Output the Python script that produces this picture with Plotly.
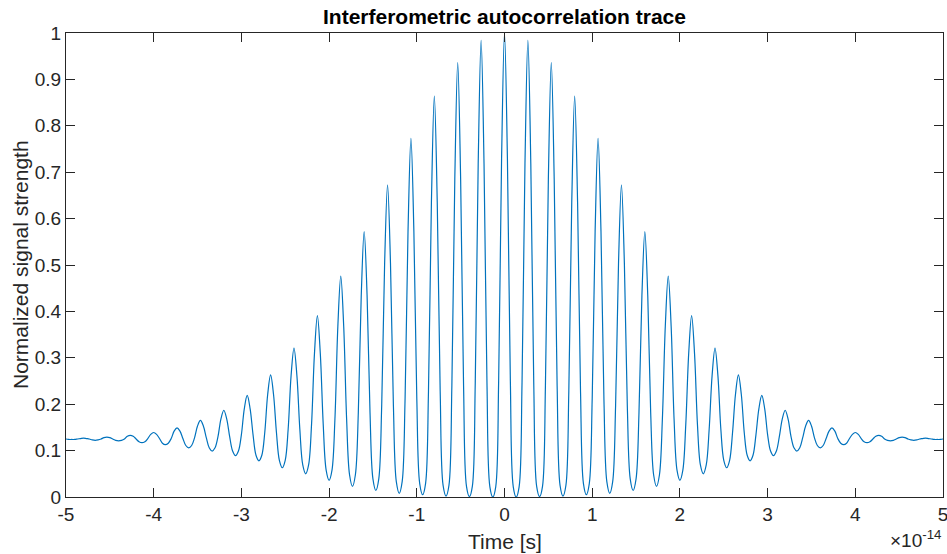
import plotly.graph_objects as go

# Time axis is in units of 1e-14 s (MATLAB shows the x10^-14 multiplier)
FRINGE_PERIOD = 0.2667

# Values, one entry per optical fringe n (tau >= 0)
# peak at n*P, upper shoulder at n*P +/- P/8, mid level at n*P +/- P/4
peak_vals = [1.000, 0.984, 0.936, 0.864, 0.773, 0.673, 0.572, 0.476, 0.391, 0.321,
             0.263, 0.219, 0.187, 0.165, 0.149, 0.139, 0.133, 0.129, 0.127, 0.125]
upper_shoulder = [0.729, 0.718, 0.685, 0.635, 0.573, 0.504, 0.434, 0.368, 0.309, 0.261,
                  0.221, 0.190, 0.168, 0.153, 0.142, 0.135, 0.131, 0.128, 0.126, 0.125]
mid_vals = [0.250, 0.247, 0.240, 0.228, 0.213, 0.197, 0.182, 0.168, 0.156, 0.146,
            0.139, 0.134, 0.130, 0.128, 0.126, 0.126, 0.125, 0.125, 0.125, 0.125]
# trough at (n+1/2)*P, lower shoulder at (n+1/2)*P +/- P/8
lower_shoulder = [0.022, 0.023, 0.025, 0.029, 0.033, 0.039, 0.048, 0.058, 0.069, 0.079,
                  0.090, 0.099, 0.106, 0.111, 0.116, 0.119, 0.122, 0.123, 0.124]
trough_vals = [0.000, 0.001, 0.002, 0.005, 0.008, 0.014, 0.023, 0.036, 0.050, 0.063,
               0.078, 0.089, 0.099, 0.106, 0.113, 0.117, 0.121, 0.122, 0.124]

x_tick_vals = [-5, -4, -3, -2, -1, 0, 1, 2, 3, 4, 5]
x_tick_text = ["-5", "-4", "-3", "-2", "-1", "0", "1", "2", "3", "4", "5"]
y_tick_vals = [0, 0.1, 0.2, 0.3, 0.4, 0.5, 0.6, 0.7, 0.8, 0.9, 1]
y_tick_text = ["0", "0.1", "0.2", "0.3", "0.4", "0.5", "0.6", "0.7", "0.8", "0.9", "1"]

TEXT_COLOR = "#262626"
FONT = "Liberation Sans, Arial, Helvetica, sans-serif"

# ------------------------------------------------------------------
# Assemble the positive-delay half, then mirror it (trace is symmetric)
half_t, half_s = [], []
P = FRINGE_PERIOD
for n in range(len(trough_vals)):
    t0 = n * P
    samples = [
        (0.0, peak_vals[n]),
        (P / 8, upper_shoulder[n]),
        (P / 4, mid_vals[n]),
        (3 * P / 8, lower_shoulder[n]),
        (P / 2, trough_vals[n]),
        (5 * P / 8, lower_shoulder[n]),
        (3 * P / 4, mid_vals[n + 1]),
        (7 * P / 8, upper_shoulder[n + 1]),
    ]
    for dt, s in samples:
        half_t.append(t0 + dt)
        half_s.append(s)
half_t.append(len(trough_vals) * P)
half_s.append(peak_vals[len(trough_vals)])

time = [-t for t in reversed(half_t[1:])] + half_t
signal = list(reversed(half_s[1:])) + half_s

fig = go.Figure()
fig.add_trace(
    go.Scatter(
        x=time,
        y=signal,
        mode="lines",
        line=dict(color="#0072BD", width=1.2, shape="spline", smoothing=1.0),
        showlegend=False,
    )
)

axis_common = dict(
    showgrid=False,
    zeroline=False,
    showline=True,
    linecolor=TEXT_COLOR,
    linewidth=1,
    mirror="ticks",
    ticks="inside",
    ticklen=9,
    tickwidth=1,
    tickcolor=TEXT_COLOR,
    automargin=False,
    ticklabeloverflow="allow",
    tickfont=dict(family=FONT, size=19, color=TEXT_COLOR),
)

fig.update_xaxes(range=[-5, 5], tickvals=x_tick_vals, ticktext=x_tick_text, **axis_common)
fig.update_yaxes(range=[0, 1], tickvals=y_tick_vals, ticktext=y_tick_text, **axis_common)

label_font = dict(family=FONT, size=21, color=TEXT_COLOR)
fig.update_layout(
    width=947,
    height=554,
    margin=dict(l=66, r=4, t=33, b=57),
    paper_bgcolor="white",
    plot_bgcolor="white",
    annotations=[
        dict(
            text="<b>Interferometric autocorrelation trace</b>",
            xref="paper", yref="paper", x=0.5, y=1,
            xanchor="center", yanchor="middle", yshift=17,
            showarrow=False, font=dict(family=FONT, size=21, color="black"),
        ),
        dict(
            text="Time [s]",
            xref="paper", yref="paper", x=0.5, y=0,
            xanchor="center", yanchor="middle", yshift=-44,
            showarrow=False, font=label_font,
        ),
        dict(
            text="Normalized signal strength",
            xref="paper", yref="paper", x=0, y=0.5,
            xanchor="center", yanchor="middle", xshift=-46, textangle=-90,
            showarrow=False, font=label_font,
        ),
        dict(
            text="\u00d710<sup>-14</sup>",
            xref="paper", yref="paper", x=1.0, y=0,
            xanchor="right", yanchor="bottom", yshift=-56,
            showarrow=False, font=dict(family=FONT, size=19, color=TEXT_COLOR),
        ),
    ],
)

# the page body has a default 8px margin; drop it so the figure sits at 0,0
fig.write_html(
    "out.html",
    config={"displayModeBar": False},
    post_script="document.body.style.margin='0px';",
)
